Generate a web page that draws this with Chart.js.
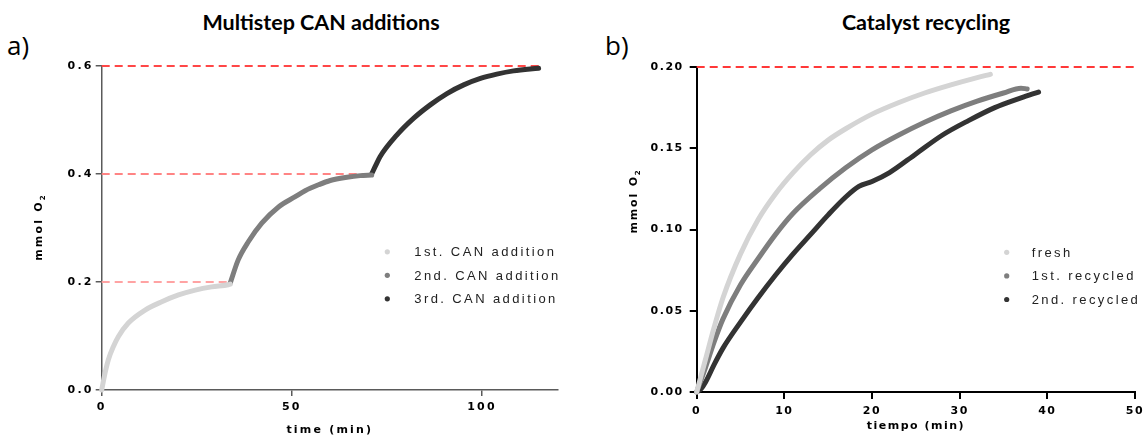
<!DOCTYPE html>
<html>
<head>
<meta charset="utf-8">
<script src="https://cdn.jsdelivr.net/npm/chart.js@4.4.1/dist/chart.umd.min.js"></script>
<style>
    body { margin: 0; width: 1143px; height: 441px; overflow: hidden; position: relative; background: #fff; }
    .panel { position: absolute; top: 0; }
    .tag { position: absolute; font: 26px "Open Sans", sans-serif; line-height: 26px; color: #000; }
    .head { position: absolute; top: 11px; font: bold 21.5px Lato, "Open Sans", sans-serif; line-height: 22px; color: #000; transform: translateX(-50%); white-space: nowrap; }
</style>
</head>
<body>
<div class="tag" style="left:7px; top:32px;">a)</div>
<div class="tag" style="left:605px; top:32px;">b)</div>
<div class="head" style="left:321px;">Multistep CAN additions</div>
<div class="head" style="left:926px;">Catalyst recycling</div>
<div class="panel" style="left:0;"><canvas id="chartA" width="571" height="441"></canvas></div>
<div class="panel" style="left:572px;"><canvas id="chartB" width="600" height="441"></canvas></div>

<script>
// a) multistep CAN additions, time in min, O2 in mmol
const firstTime  = [0, 0.87, 1.75, 3.05, 4.4, 7.0, 11.4, 15.8, 20.2, 24.6, 28.9, 33.3, 33.8];
const firstO2    = [0, 0.031, 0.056, 0.080, 0.099, 0.124, 0.148, 0.1635, 0.176, 0.185, 0.191, 0.195, 0.196];
const secondTime = [33.8, 35.9, 38.6, 42.1, 46.5, 50.9, 53.5, 57.0, 60.1, 64.5, 68.0, 71.0];
const secondO2   = [0.198, 0.241, 0.275, 0.309, 0.339, 0.358, 0.369, 0.380, 0.388, 0.394, 0.397, 0.398];
const thirdTime  = [71.0, 72.0, 73.2, 77.6, 82.0, 86.4, 90.8, 95.2, 99.6, 103.9, 108.3, 114.9];
const thirdO2    = [0.400, 0.415, 0.432, 0.472, 0.503, 0.528, 0.549, 0.565, 0.577, 0.585, 0.591, 0.596];
const stepLevels = [0.2, 0.4, 0.6];
const stepEnds   = [33.8, 71.0, 115.8];
const seriesA    = ['1st. CAN addition', '2nd. CAN addition', '3rd. CAN addition'];
const xTicksA    = [0, 50, 100];
const yTicksA    = [0, 0.2, 0.4, 0.6];

// b) catalyst recycling
const freshTime  = [0, 1, 2, 3, 5, 7, 9, 11, 13, 15, 17, 20, 23, 26, 29, 32, 33.5];
const freshO2    = [0, 0.020, 0.040, 0.058, 0.085, 0.106, 0.122, 0.135, 0.146, 0.155, 0.162, 0.171, 0.178, 0.184, 0.189, 0.1935, 0.1955];
const rec1Time   = [0, 1, 2, 3, 5, 7, 9, 11, 14, 17, 20, 23, 26, 29, 32, 35, 37, 37.7];
const rec1O2     = [0, 0.015, 0.031, 0.045, 0.066, 0.082, 0.097, 0.110, 0.125, 0.138, 0.149, 0.158, 0.166, 0.173, 0.179, 0.184, 0.187, 0.1865];
const rec2Time   = [0, 0.5, 1, 2, 3, 5, 7, 9, 11, 13, 15, 17, 18.5, 20, 22, 25, 28, 31, 34, 37, 39];
const rec2O2     = [0, 0.002, 0.006, 0.017, 0.027, 0.043, 0.058, 0.072, 0.085, 0.097, 0.109, 0.120, 0.1265, 0.1295, 0.135, 0.1465, 0.158, 0.167, 0.175, 0.181, 0.1846];
const maxLevelB  = 0.2;
const maxEndB    = 50;
const seriesB    = ['fresh', '1st. recycled', '2nd. recycled'];
const xTicksB    = [0, 10, 20, 30, 40, 50];
const yTicksB    = [0, 0.05, 0.10, 0.15, 0.20];

const tickFamily = '"DejaVu Sans", Verdana, sans-serif';
const legendFamily = '"Liberation Sans", Arial, sans-serif';
const greys = ['#d4d4d4', '#7e7e7e', '#333333'];

function toPts(xs, ys) {
    return xs.map((x, i) => ({ x: x, y: ys[i] }));
}

function curve(label, xs, ys, color) {
    return {
        label: label,
        data: toPts(xs, ys),
        borderColor: color,
        backgroundColor: color,
        borderWidth: 5,
        borderCapStyle: 'round',
        borderJoinStyle: 'round',
        pointRadius: 0,
        cubicInterpolationMode: 'monotone',
        clip: 4,
        fill: false
    };
}

function refLine(level, end, color, width) {
    return {
        label: 'ref',
        isRef: true,
        data: [{ x: 0, y: level }, { x: end, y: level }],
        borderColor: color,
        backgroundColor: color,
        borderWidth: width,
        borderDash: [8, 5],
        pointRadius: 0,
        clip: false,
        fill: false
    };
}

function axis(o) {
    return {
        type: 'linear',
        min: o.min,
        max: o.max,
        afterBuildTicks: s => { s.ticks = o.ticks.map(v => ({ value: v })); },
        afterFit: s => {
            if (o.width != null) s.width = o.width;
            if (o.height != null) s.height = o.height;
        },
        grid: { drawOnChartArea: false, drawTicks: true, tickLength: o.tick, color: o.color, lineWidth: o.lw, tickWidth: o.lw },
        border: { color: o.color, width: o.lw },
        ticks: {
            color: '#000',
            padding: o.pad,
            maxRotation: 0,
            font: { family: tickFamily, size: 11, weight: 'bold' },
            callback: v => v.toFixed(o.dec)
        },
        title: o.title ? {
            display: true,
            text: o.title,
            color: '#000',
            font: { family: tickFamily, size: 11, weight: 'bold' },
            padding: { top: 0, bottom: o.titlePad }
        } : { display: false }
    };
}

// canvas letter spacing, reset whenever the canvas is resized
const spacing = {
    id: 'spacing',
    beforeLayout(chart, args, o) { chart.ctx.letterSpacing = o.px + 'px'; },
    beforeDraw(chart, args, o) { chart.ctx.letterSpacing = o.px + 'px'; }
};

// rotated y title with a real subscript
const yTitle = {
    id: 'yTitle',
    afterDraw(chart, args, o) {
        const ctx = chart.ctx;
        ctx.save();
        ctx.letterSpacing = o.px + 'px';
        ctx.translate(o.x, o.y);
        ctx.rotate(-Math.PI / 2);
        ctx.fillStyle = '#000';
        ctx.textBaseline = 'alphabetic';
        ctx.textAlign = 'left';
        const big = 'bold 11px ' + tickFamily;
        const small = 'bold 7px ' + tickFamily;
        ctx.font = big;
        const w1 = ctx.measureText(o.main).width;
        ctx.font = small;
        const w2 = ctx.measureText(o.sub).width;
        const x0 = -(w1 + w2) / 2;
        ctx.font = big;
        ctx.fillText(o.main, x0, 4);
        ctx.font = small;
        ctx.fillText(o.sub, x0 + w1, 7);
        ctx.restore();
    }
};

// dot legend placed inside the plot
const dotLegend = {
    id: 'dotLegend',
    afterDraw(chart, args, o) {
        const ctx = chart.ctx;
        ctx.save();
        ctx.letterSpacing = '2.4px';
        ctx.font = '13px ' + legendFamily;
        ctx.textBaseline = 'middle';
        ctx.textAlign = 'left';
        chart.data.datasets.filter(d => !d.isRef).forEach((d, i) => {
            const y = o.y + i * o.gap;
            ctx.fillStyle = d.borderColor;
            ctx.beginPath();
            ctx.arc(o.dotX, y - 1, 2.6, 0, Math.PI * 2);
            ctx.fill();
            ctx.fillStyle = '#222';
            ctx.fillText(d.label, o.textX, y);
        });
        ctx.restore();
    }
};

const plugins = [spacing, yTitle, dotLegend];

new Chart(document.getElementById('chartA'), {
    type: 'line',
    data: {
        datasets: [
            curve(seriesA[0], firstTime, firstO2, greys[0]),
            curve(seriesA[1], secondTime, secondO2, greys[1]),
            curve(seriesA[2], thirdTime, thirdO2, greys[2]),
            refLine(stepLevels[0], stepEnds[0], '#ffa3a3', 2),
            refLine(stepLevels[1], stepEnds[1], '#ff8484', 2),
            refLine(stepLevels[2], stepEnds[2], '#ff4747', 2)
        ]
    },
    options: {
        responsive: false,
        animation: false,
        layout: { padding: { left: 0, top: 66, right: 13, bottom: 0 } },
        scales: {
            x: axis({ min: 0, max: 120, ticks: xTicksA, dec: 0, height: 51, tick: 6, pad: 5,
                      color: '#5a5a5a', lw: 1.5, title: 'time (min)', titlePad: 4.6 }),
            y: axis({ min: 0, max: 0.6, ticks: yTicksA, dec: 1, width: 101.7, tick: 6, pad: 2,
                      color: '#5a5a5a', lw: 1.5 })
        },
        plugins: {
            legend: { display: false },
            tooltip: { enabled: false },
            spacing: { px: 2.2 },
            yTitle: { x: 38, y: 227, main: 'mmol O', sub: '2', px: 2.2 },
            dotLegend: { dotX: 387.3, textX: 414.3, y: 252.8, gap: 23.5 }
        }
    },
    plugins: plugins
});

new Chart(document.getElementById('chartB'), {
    type: 'line',
    data: {
        datasets: [
            curve(seriesB[0], freshTime, freshO2, greys[0]),
            curve(seriesB[1], rec1Time, rec1O2, greys[1]),
            curve(seriesB[2], rec2Time, rec2O2, greys[2]),
            refLine(maxLevelB, maxEndB, 'rgb(255, 56, 56)', 2)
        ]
    },
    options: {
        responsive: false,
        animation: false,
        layout: { padding: { left: 0, top: 67, right: 37, bottom: 0 } },
        scales: {
            x: axis({ min: 0, max: 50, ticks: xTicksB, dec: 0, height: 49, tick: 7, pad: 6,
                      color: '#000', lw: 2, title: 'tiempo (min)', titlePad: 8.3 }),
            y: axis({ min: 0, max: 0.2, ticks: yTicksB, dec: 2, width: 124.7, tick: 7, pad: 6,
                      color: '#000', lw: 2 })
        },
        plugins: {
            legend: { display: false },
            tooltip: { enabled: false },
            spacing: { px: 1.5 },
            yTitle: { x: 61, y: 201, main: 'mmol O', sub: '2', px: 1.8 },
            dotLegend: { dotX: 434.7, textX: 459.7, y: 253.3, gap: 23.6 }
        }
    },
    plugins: plugins
});
</script>
</body>
</html>
